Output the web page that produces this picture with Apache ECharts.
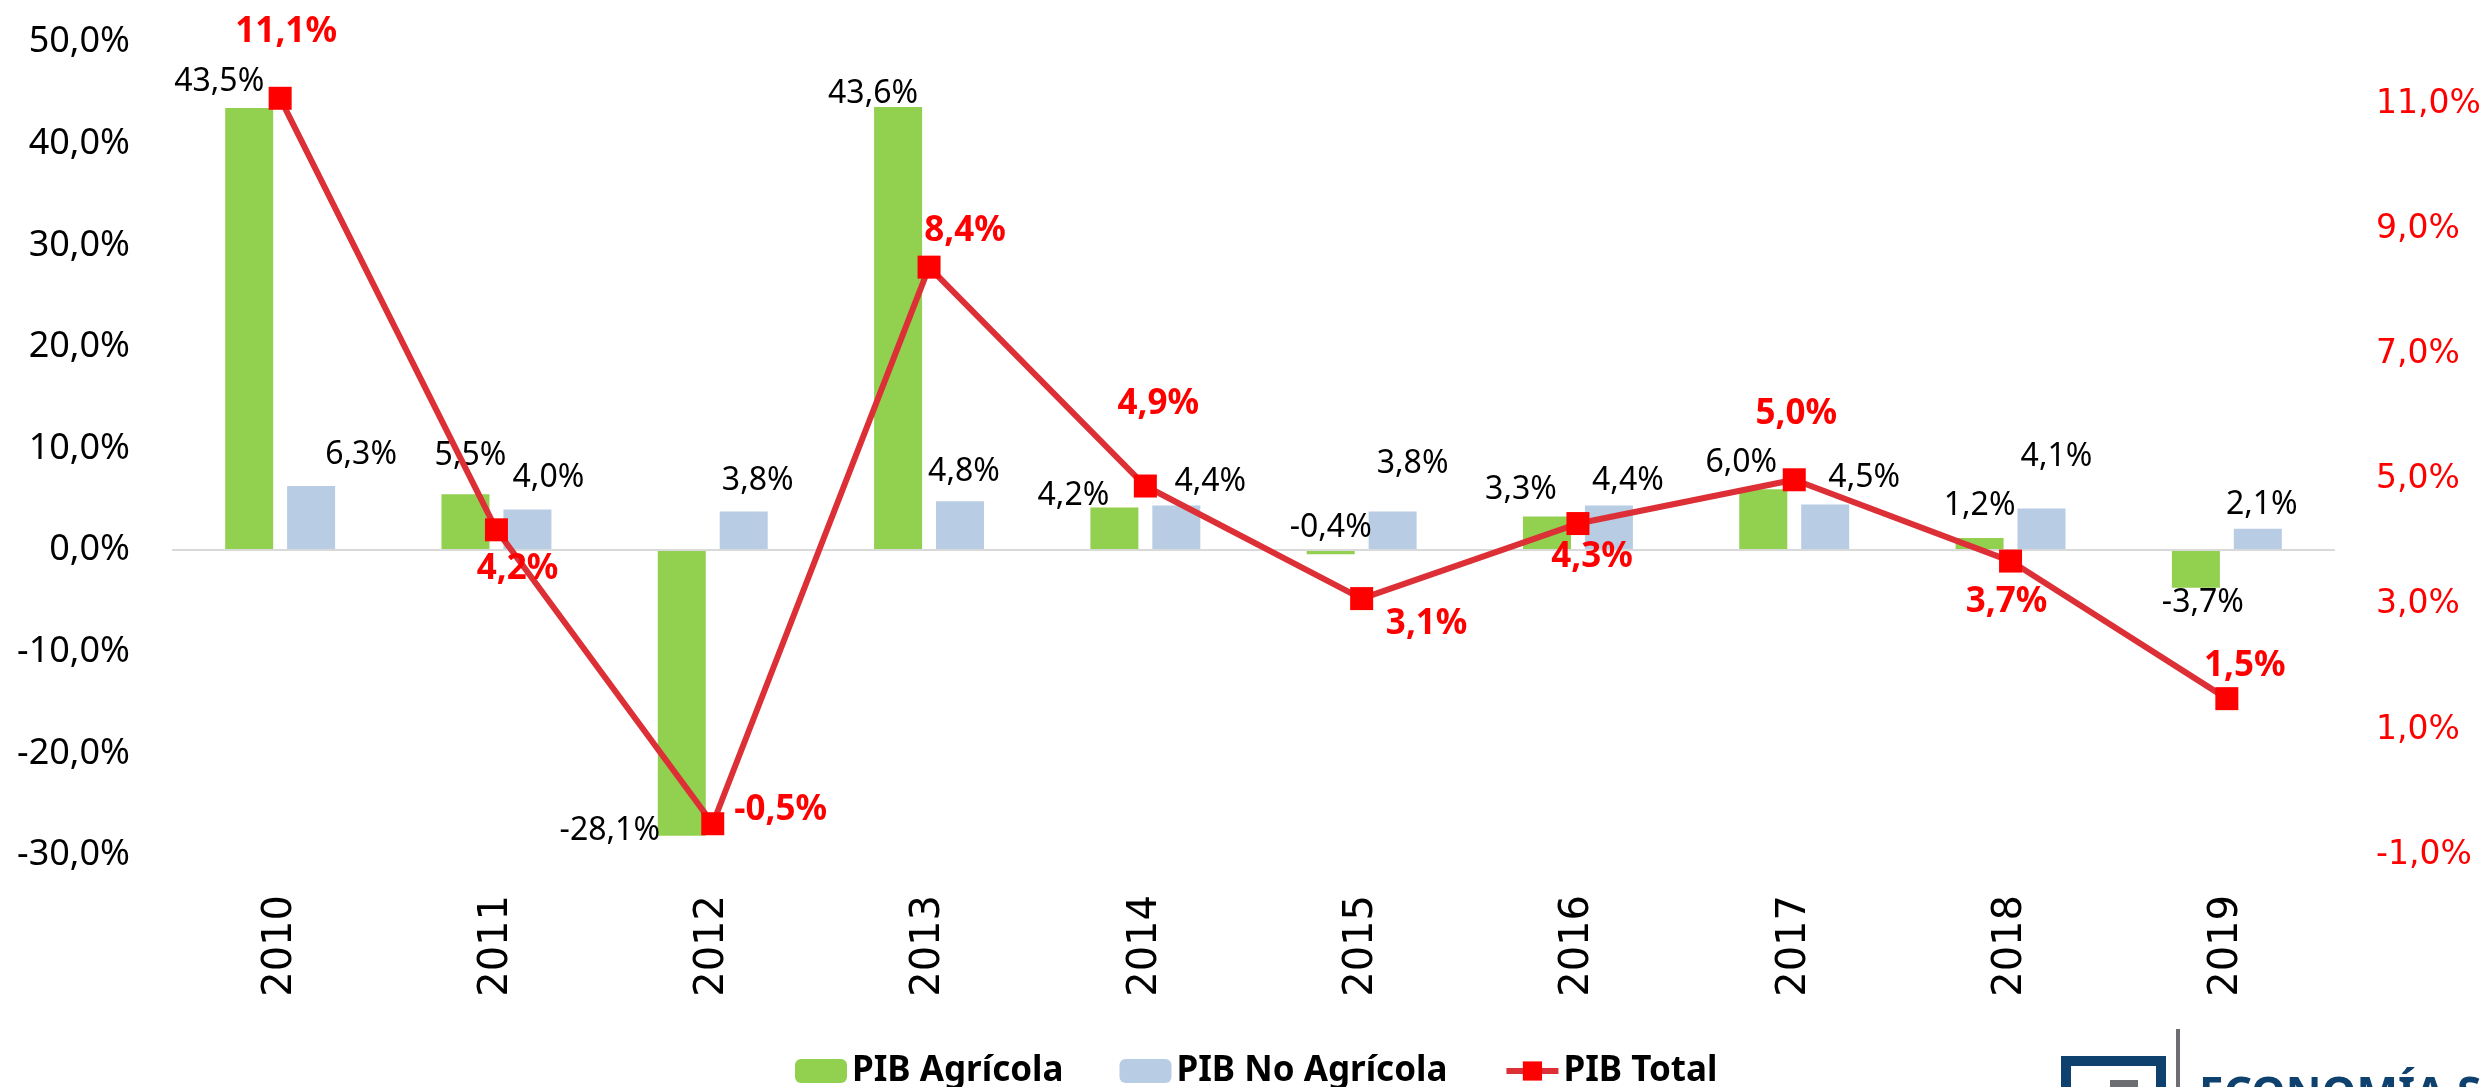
<!DOCTYPE html>
<html>
<head>
<meta charset="utf-8">
<script src="https://cdn.jsdelivr.net/npm/echarts@6/dist/echarts.min.js"></script>
<style>
  html, body { margin: 0; padding: 0; background: #ffffff; }
  #chart { width: 2486px; height: 1087px; }
</style>
</head>
<body>
<div id="chart"></div>
<script>
// Data
const years = ['2010', '2011', '2012', '2013', '2014', '2015', '2016', '2017', '2018', '2019'];
const pibAgricola = [43.5, 5.5, -28.1, 43.6, 4.2, -0.4, 3.3, 6.0, 1.2, -3.7];
const pibNoAgricola = [6.3, 4.0, 3.8, 4.8, 4.4, 3.8, 4.4, 4.5, 4.1, 2.1];
const pibTotal = [11.1, 4.2, -0.5, 8.4, 4.9, 3.1, 4.3, 5.0, 3.7, 1.5];

// Hand-placed label positions (like the manually dragged labels of the original)
const agriLabelSide = ['top', 'top', 'bottom', 'top', 'top', 'top', 'top', 'top', 'top', 'bottom'];
const agriLabelOffset = [[-30, -26], [5, -38], [-72, -5], [-25, -13], [-41, -12], [0, -22], [-26, -27], [-22, -26], [0, -32], [7, 15]];
const noAgriLabelOffset = [[50, -31], [21, -32], [14, -31], [4, -29], [34, -24], [20, -48], [19, -25], [39, -27], [15, -52], [4, -24]];
const totalLabelOffset = [[6, -66], [21, 39], [68, -14], [36, -36], [13, -82], [65, 25], [14, 33], [2, -66], [-4, 41], [18, -33]];

const pct = v => v.toFixed(1).replace('.', ',') + '%';

const chart = echarts.init(document.getElementById('chart'));

const barLabel = {
    show: true,
    distance: 0,
    align: 'center',
    verticalAlign: 'middle',
    fontFamily: 'Noto Sans',
    fontSize: 32,
    color: '#000000',
    formatter: p => pct(p.value)
};

const option = {
    animation: false,
    backgroundColor: '#ffffff',
    grid: {
        left: 172,
        right: 151,
        top: 42,
        height: 813
    },
    legend: {
        left: 790,
        top: 1048,
        itemWidth: 52,
        itemHeight: 24,
        itemGap: 56,
        lineStyle: { width: 6 },
        textStyle: {
            fontFamily: 'Noto Sans',
            fontWeight: 'bold',
            fontSize: 35,
            lineHeight: 36,
            color: '#000000'
        },
        data: ['PIB Agrícola', 'PIB No Agrícola', 'PIB Total']
    },
    xAxis: {
        type: 'category',
        data: years,
        axisLine: { show: false, onZero: false },
        axisTick: { show: false },
        axisLabel: {
            rotate: 90,
            margin: 40,
            fontFamily: 'DejaVu Sans',
            fontSize: 40,
            color: '#000000'
        }
    },
    yAxis: [
        {
            type: 'value',
            min: -30,
            max: 50,
            interval: 10,
            axisLine: { show: false },
            axisTick: { show: false },
            splitLine: { show: false },
            axisLabel: {
                margin: 42,
                fontFamily: 'Noto Sans',
                fontSize: 36,
                color: '#000000',
                formatter: v => pct(v)
            }
        },
        {
            type: 'value',
            min: -1,
            max: 12,
            interval: 1,
            position: 'right',
            axisLine: { show: false },
            axisTick: { show: false },
            splitLine: { show: false },
            axisLabel: {
                margin: 41,
                fontFamily: 'DejaVu Sans',
                fontSize: 33,
                color: '#FF0000',
                // only every other tick carries a label: -1, 1, 3 ... 11
                formatter: v => (Math.abs(v) % 2 === 1 ? pct(v) : '')
            }
        }
    ],
    series: [
        {
            name: 'PIB Agrícola',
            type: 'bar',
            yAxisIndex: 0,
            barWidth: 48,
            barGap: '29%',
            itemStyle: { color: '#92D050' },
            label: barLabel,
            data: pibAgricola.map((v, i) => ({
                value: v,
                label: { position: agriLabelSide[i], offset: agriLabelOffset[i] }
            })),
            markLine: {
                silent: true,
                symbol: 'none',
                label: { show: false },
                lineStyle: { color: '#D9D9D9', width: 2, type: 'solid' },
                data: [{ yAxis: 0 }]
            }
        },
        {
            name: 'PIB No Agrícola',
            type: 'bar',
            yAxisIndex: 0,
            barWidth: 48,
            barGap: '29%',
            itemStyle: { color: '#B8CCE4' },
            label: barLabel,
            data: pibNoAgricola.map((v, i) => ({
                value: v,
                label: { position: 'top', offset: noAgriLabelOffset[i] }
            }))
        },
        {
            name: 'PIB Total',
            type: 'line',
            yAxisIndex: 1,
            z: 5,
            symbol: 'rect',
            symbolSize: 23,
            itemStyle: { color: '#FF0000' },
            lineStyle: { color: '#DC2F36', width: 6 },
            label: {
                show: true,
                position: 'inside',
                align: 'center',
                verticalAlign: 'middle',
                fontFamily: 'Noto Sans',
                fontWeight: 'bold',
                fontSize: 35,
                color: '#FF0000',
                formatter: p => pct(p.value)
            },
            data: pibTotal.map((v, i) => ({
                value: v,
                label: { offset: totalLabelOffset[i] }
            }))
        }
    ],
    // publisher logo, cut by the bottom edge as in the original
    graphic: [
        {
            type: 'rect',
            left: 2061,
            top: 1056,
            shape: { width: 95, height: 60 },
            style: { fill: 'none', stroke: '#0F416F', lineWidth: 10 },
            silent: true
        },
        {
            type: 'rect',
            left: 2110,
            top: 1080,
            shape: { width: 28, height: 10 },
            style: { fill: '#6D6E71' },
            silent: true
        },
        {
            type: 'rect',
            left: 2176,
            top: 1029,
            shape: { width: 4, height: 60 },
            style: { fill: '#6D6E71' },
            silent: true
        },
        {
            type: 'text',
            left: 2199,
            top: 1074,
            style: {
                text: 'ECONOMÍA S.A.',
                fill: '#0F416F',
                font: 'bold 44px "Noto Sans"'
            },
            silent: true
        }
    ]
};

chart.setOption(option);
</script>
</body>
</html>
